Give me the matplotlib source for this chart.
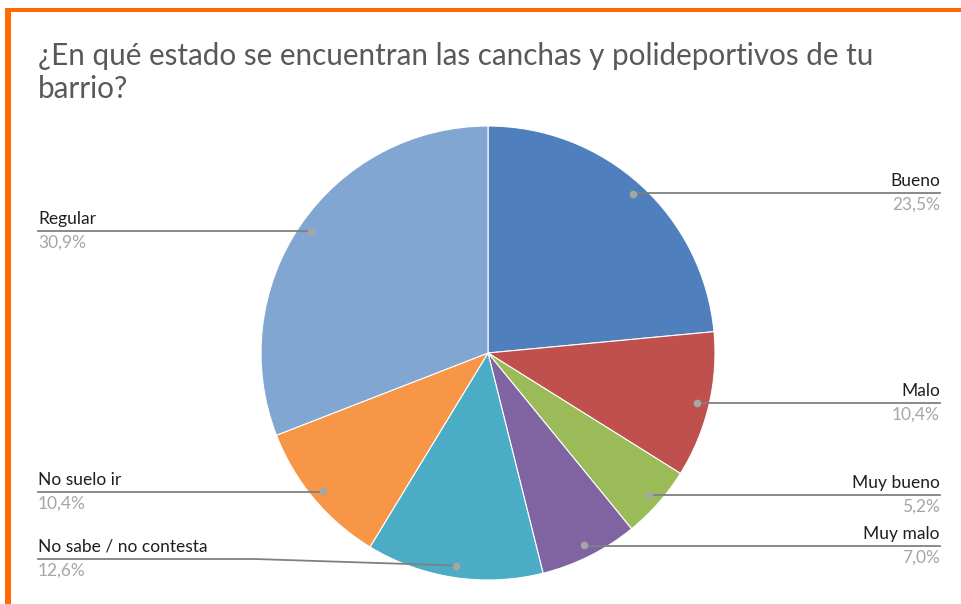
import matplotlib
matplotlib.use("Agg")
import matplotlib.pyplot as plt
from matplotlib.patches import Rectangle
import numpy as np

plt.rcParams['font.family'] = ['Lato', 'DejaVu Sans']

categories = ["Bueno", "Malo", "Muy bueno", "Muy malo", "No sabe / no contesta", "No suelo ir", "Regular"]
values = [23.5, 10.4, 5.2, 7.0, 12.6, 10.4, 30.9]
pct_labels = ["23,5%", "10,4%", "5,2%", "7,0%", "12,6%", "10,4%", "30,9%"]
colors = ["#4F7FBD", "#C0504D", "#9BBB59", "#8064A2", "#4BACC6", "#F79646", "#82A6D2"]
title_lines = ["¿En qué estado se encuentran las canchas y polideportivos de tu", "barrio?"]

W, H = 962, 604
fig = plt.figure(figsize=(W / 100, H / 100), dpi=100)
ax = fig.add_axes([0, 0, 1, 1])

cx, cy, R = 488, H - 353, 227
wedges, _ = ax.pie(values, colors=colors, startangle=90, counterclock=False,
                   center=(cx, cy), radius=R, wedgeprops=dict(edgecolor="white", linewidth=0.8))
ax.set_xlim(0, W)
ax.set_ylim(0, H)
ax.set_aspect('equal')
ax.axis('off')

# label layout: (side, line y in image px)
layout = {
    "Bueno": ("R", 193),
    "Malo": ("R", 403),
    "Muy bueno": ("R", 495),
    "Muy malo": ("R", 546),
    "No sabe / no contesta": ("L", 559),
    "No suelo ir": ("L", 492),
    "Regular": ("L", 231),
}
line_col = "#808080"
dot_col = "#A6A6A6"
xr, xl = 940, 38
fs = 12.5
cum = 0.0
total = sum(values)
for cat, v, pl in zip(categories, values, pct_labels):
    mid = (cum + v / 2) / total * 360.0
    cum += v
    th = np.deg2rad(mid)
    r_dot = 0.947 * R
    dx = cx + r_dot * np.sin(th)
    dy = cy + r_dot * np.cos(th)
    side, ly = layout[cat]
    ly = H - ly
    if side == "R":
        ax.plot([dx, xr], [ly, ly], color=line_col, lw=1.3, zorder=3)
        ax.text(xr, ly + 4, cat, ha='right', va='bottom', fontsize=fs, color="#1F1F1F")
        ax.text(xr, ly - 4, pl, ha='right', va='top', fontsize=fs, color="#A6A6A6")
    else:
        if abs(dy - ly) > 2:
            xe = 255
            ax.plot([xl, xe, dx], [ly, ly, dy], color=line_col, lw=1.3, zorder=3)
        else:
            ax.plot([xl, dx], [ly, ly], color=line_col, lw=1.3, zorder=3)
        ax.text(xl, ly + 4, cat, ha='left', va='bottom', fontsize=fs, color="#1F1F1F")
        ax.text(xl, ly - 4, pl, ha='left', va='top', fontsize=fs, color="#A6A6A6")
    ax.plot([dx], [dy], 'o', color=dot_col, ms=4.5, zorder=4)

# title
ax.text(38, H - 65, title_lines[0], ha='left', va='baseline', fontsize=21.3, color="#595959")
ax.text(38, H - 98, title_lines[1], ha='left', va='baseline', fontsize=21.3, color="#595959")

# orange frame
orange = "#FF6A00"
ax.add_patch(Rectangle((5, H - 12), W - 5, 4, color=orange, lw=0, zorder=5))
ax.add_patch(Rectangle((5, 0), 6, H - 8, color=orange, lw=0, zorder=5))

fig.savefig("out.png", dpi=100)
